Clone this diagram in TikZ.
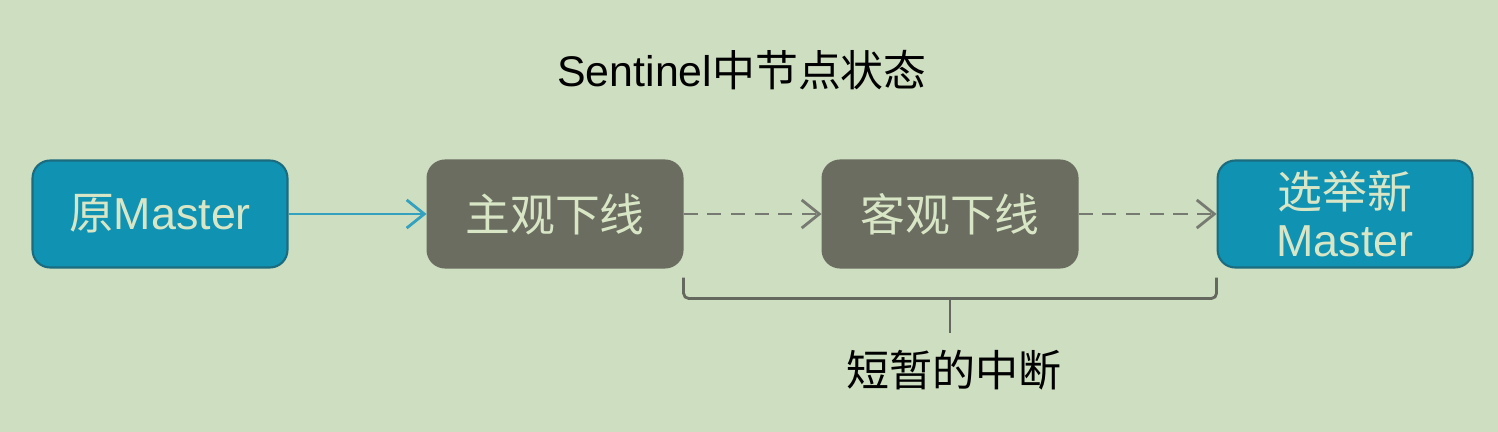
\documentclass[tikz,border=0pt]{standalone}
\usepackage{fontspec}
\setmainfont{Liberation Sans}
\newfontfamily\cjk{Noto Sans CJK SC}
\usepackage{xcolor}
\usetikzlibrary{positioning,arrows.meta}

\definecolor{bgsage}{RGB}{206,222,192}
\definecolor{tealfill}{RGB}{16,146,179}
\definecolor{tealedge}{RGB}{28,108,128}
\definecolor{slatefill}{RGB}{106,109,96}
\definecolor{boxtext}{RGB}{216,230,198}
\definecolor{dashgray}{RGB}{118,122,112}

\begin{document}
\begin{tikzpicture}[x=0.02cm, y=-0.02cm, >={Straight Barb[length=10pt,width=16pt]}, node distance=2.76cm,
    box/.style={rounded corners=10pt, minimum width=5.1cm, minimum height=2.14cm, align=center,
      text=boxtext, line width=1.2pt, font=\fontsize{25.5}{27.5}\selectfont},
    masterbox/.style={box, fill=tealfill, draw=tealedge},
    downbox/.style={box, fill=slatefill, draw=slatefill},
    flow/.style={->, line width=1.6pt, draw=tealfill!85!white},
    wait/.style={->, line width=1.6pt, draw=dashgray, dash pattern=on 8pt off 5.5pt},
    brace/.style={line width=1.6pt, draw=dashgray!85!black, rounded corners=3pt}]
  \fill[bgsage] (0,0) rectangle (1498,432);
  \useasboundingbox (0,0) rectangle (1498,432);

  \node[font=\fontsize{24.4}{26}\selectfont] (title) at (742,70) {Sentinel{\cjk 中节点状态}};

  \node[masterbox] (old) at (160,214) {{\cjk 原}Master};
  \node[downbox] (sdown) [right=of old] {\cjk 主观下线};
  \node[downbox] (odown) [right=of sdown] {\cjk 客观下线};
  \node[masterbox] (new) [right=of odown] {{\cjk 选举新}\\Master};

  \draw[flow] (old) -- (sdown);
  \draw[wait] (sdown) -- (odown);
  \draw[wait] (odown) -- (new);

  % bracket under the two down states
  \coordinate (bmid) at ([yshift=-0.6cm]odown.south);
  \coordinate (btip) at ([yshift=-0.68cm]bmid);
  \draw[brace] ([yshift=-0.18cm]sdown.south east) |- (bmid) -| ([yshift=-0.18cm]new.south west);
  \draw[brace] (bmid) -- (btip);

  \node[font=\fontsize{24.5}{26}\selectfont] (gap) [below=6.5pt of btip, xshift=0.08cm] {\cjk 短暂的中断};
\end{tikzpicture}
\end{document}
